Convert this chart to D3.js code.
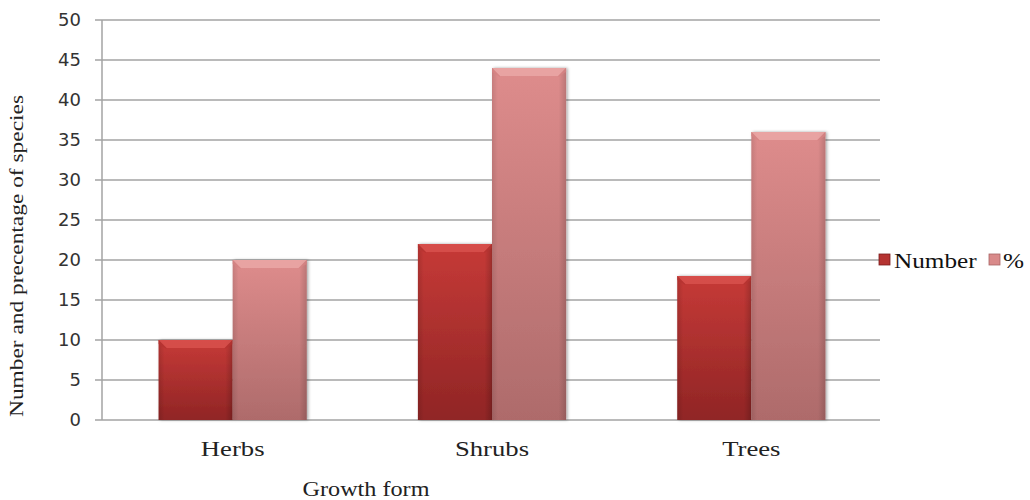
<!DOCTYPE html>
<html><head><meta charset="utf-8">
<script src="https://cdn.jsdelivr.net/npm/d3@7"></script>
<style>body{margin:0;background:#fff}svg{display:block}</style>
</head><body>
<svg id="c" width="1030" height="500"></svg>
<script>
const categories = ["Herbs", "Shrubs", "Trees"];
const seriesNames = ["Number", "%"];
const numberValues = [10, 22, 18];
const percentValues = [20, 44, 36];
const yTicks = [0, 5, 10, 15, 20, 25, 30, 35, 40, 45, 50];
const xTitle = "Growth form";
const yTitle = "Number and precentage of species";

(function () {
const svg = d3.select("#c");
const pLeft = 102, pRight = 880, pTop = 20, pBottom = 420;
const y = d3.scaleLinear().domain([0, 50]).range([pBottom, pTop]);
const x0 = d3.scaleBand().domain(categories).range([pLeft + 1, pRight + 1]).paddingInner(0).paddingOuter(0);
const x1 = d3.scaleBand().domain(seriesNames).range([0, x0.bandwidth()]).paddingInner(0).paddingOuter(0.75);

const defs = svg.append("defs");
function grad(id, stops, vertical) {
  const g = defs.append("linearGradient").attr("id", id)
    .attr("x1", 0).attr("y1", 0).attr("x2", vertical ? 0 : 1).attr("y2", vertical ? 1 : 0);
  stops.forEach(s => g.append("stop").attr("offset", s[0]).attr("stop-color", s[1]));
}
grad("gNum", [[0, "#c63a37"], [1, "#902525"]], true);
grad("gNumH", [[0, "rgba(0,0,0,0.12)"], [0.08, "rgba(0,0,0,0)"], [0.9, "rgba(0,0,0,0)"], [1, "rgba(0,0,0,0.18)"]], false);
grad("gPct", [[0, "#de8c8c"], [1, "#ae6b6b"]], true);
grad("gPctH", [[0, "rgba(0,0,0,0.10)"], [0.08, "rgba(0,0,0,0)"], [0.9, "rgba(0,0,0,0)"], [1, "rgba(0,0,0,0.15)"]], false);
const sh = defs.append("filter").attr("id", "shadow").attr("x", "-10%").attr("y", "-10%").attr("width", "130%").attr("height", "130%");
sh.append("feDropShadow").attr("dx", 1.5).attr("dy", 0).attr("stdDeviation", 1.5).attr("flood-color", "#000").attr("flood-opacity", 0.35);

svg.append("g").selectAll("line").data(yTicks).join("line")
  .attr("x1", pLeft - 7).attr("x2", pRight).attr("y1", d => y(d)).attr("y2", d => y(d))
  .attr("stroke", "#a3a3a3").attr("stroke-width", 1.5);
svg.append("line").attr("x1", pLeft).attr("x2", pLeft).attr("y1", pTop).attr("y2", pBottom)
  .attr("stroke", "#a3a3a3").attr("stroke-width", 1.5);
svg.append("g").selectAll("text").data(yTicks).join("text")
  .attr("x", 81).attr("y", d => y(d)).attr("dy", "0.36em").attr("text-anchor", "end")
  .attr("font-family", "DejaVu Sans").attr("font-size", 18).attr("fill", "#333")
  .text(d => d);

const data = categories.map((c, i) => ({cat: c, vals: [
  {s: "Number", v: numberValues[i]}, {s: "%", v: percentValues[i]}]}));

const bars = svg.append("g").selectAll("g").data(data).join("g")
  .attr("transform", d => `translate(${x0(d.cat)},0)`);
const bar = bars.selectAll("g").data(d => d.vals).join("g");
bar.append("rect")
  .attr("x", d => x1(d.s)).attr("y", d => y(d.v)).attr("width", x1.bandwidth()).attr("height", d => y(0) - y(d.v))
  .attr("fill", d => d.s === "Number" ? "url(#gNum)" : "url(#gPct)").attr("filter", "url(#shadow)");
bar.append("rect")
  .attr("x", d => x1(d.s)).attr("y", d => y(d.v)).attr("width", x1.bandwidth()).attr("height", d => y(0) - y(d.v))
  .attr("fill", d => d.s === "Number" ? "url(#gNumH)" : "url(#gPctH)");
bar.append("path")
  .attr("d", d => {
    const x = x1(d.s), w = x1.bandwidth(), t = y(d.v), b = 8;
    return `M${x},${t}L${x + w},${t}L${x + w - b},${t + b}L${x + b},${t + b}Z`;
  })
  .attr("fill", d => d.s === "Number" ? "#d9534f" : "#eba9a7").attr("opacity", 0.8);
bar.append("path")
  .attr("d", d => {
    const x = x1(d.s), w = x1.bandwidth(), t = y(d.v), b = 8;
    return `M${x},${t}L${x + b},${t + b}L${x + b},${t + b + 1}L${x},${t + 4}Z M${x + w},${t}L${x + w - b},${t + b}L${x + w - b},${t + b + 1}L${x + w},${t + 4}Z`;
  })
  .attr("fill", d => d.s === "Number" ? "#b53331" : "#d68383").attr("opacity", 0.8);

function stretch(sel, k) {
  sel.each(function () {
    const w = this.getComputedTextLength();
    d3.select(this).attr("textLength", w * k).attr("lengthAdjust", "spacingAndGlyphs");
  });
}

svg.append("g").selectAll("text").data(categories).join("text")
  .attr("x", d => x0(d) + x0.bandwidth() / 2).attr("y", 456).attr("text-anchor", "middle")
  .attr("font-family", "Liberation Serif").attr("font-size", 21).attr("fill", "#222")
  .text(d => d).call(stretch, 1.27);

svg.append("text").attr("x", 366).attr("y", 496).attr("text-anchor", "middle")
  .attr("font-family", "Liberation Serif").attr("font-size", 20).attr("fill", "#222")
  .attr("textLength", 127).attr("lengthAdjust", "spacingAndGlyphs").text(xTitle);

svg.append("text").attr("transform", "translate(23,256) rotate(-90)").attr("text-anchor", "middle")
  .attr("font-family", "Liberation Serif").attr("font-size", 19).attr("fill", "#222")
  .attr("textLength", 322).attr("lengthAdjust", "spacingAndGlyphs").text(yTitle);

const leg = svg.append("g");
const legItems = [
  {s: "Number", x: 879, tx: 894, fill: "#b53331", stroke: "#7a1d1d"},
  {s: "%", x: 989, tx: 1003, fill: "#d98a8a", stroke: "#a86464"}
];
leg.selectAll("rect").data(legItems).join("rect")
  .attr("x", d => d.x).attr("y", 254).attr("width", 11).attr("height", 11)
  .attr("fill", d => d.fill).attr("stroke", d => d.stroke).attr("stroke-width", 0.8);
leg.selectAll("text").data(legItems).join("text")
  .attr("x", d => d.tx).attr("y", 268)
  .attr("font-family", "Liberation Serif").attr("font-size", 21).attr("fill", "#111")
  .text(d => d.s).call(stretch, 1.2);
})();
</script>
</body></html>
